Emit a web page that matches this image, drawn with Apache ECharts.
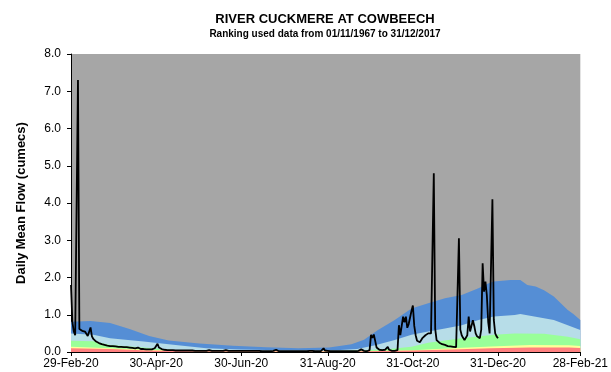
<!DOCTYPE html>
<html>
<head>
<meta charset="utf-8">
<script src="https://cdn.jsdelivr.net/npm/echarts@6/dist/echarts.min.js"></script>
<style>
  html, body { margin: 0; padding: 0; background: #fff; }
  #chart { width: 611px; height: 372px; }
</style>
</head>
<body>
<div id="chart"></div>
<script>
// Hydrological year shown: 29-Feb-2020 .. 28-Feb-2021 (day index 0..365)
const startDate = new Date(Date.UTC(2020, 1, 29));
const dayCount = 366;
const tickLabels = ['29-Feb-20', '30-Apr-20', '30-Jun-20', '31-Aug-20', '31-Oct-20', '31-Dec-20', '28-Feb-21'];

// Daily mean flow (cumecs), from 29-Feb-2020 onwards
const dailyFlow = [
  1.80,0.80,0.55,0.45,0.42,7.30,0.62,0.58,0.57,0.57,
  0.55,0.50,0.43,0.42,0.66,0.42,0.35,0.31,0.28,0.26,
  0.24,0.22,0.21,0.20,0.19,0.18,0.17,0.17,0.16,0.16,
  0.16,0.15,0.15,0.15,0.14,0.14,0.14,0.14,0.13,0.13,
  0.13,0.12,0.12,0.11,0.11,0.10,0.10,0.09,0.12,0.10,
  0.08,0.08,0.08,0.07,0.07,0.07,0.07,0.07,0.07,0.08,
  0.10,0.16,0.22,0.12,0.09,0.08,0.07,0.06,0.06,0.05,
  0.05,0.05,0.05,0.05,0.04,0.04,0.04,0.04,0.04,0.04,
  0.04,0.04,0.04,0.04,0.04,0.04,0.04,0.04,0.03,0.03,
  0.03,0.03,0.03,0.03,0.03,0.03,0.03,0.03,0.03,0.05,
  0.03,0.03,0.03,0.03,0.03,0.03,0.03,0.03,0.03,0.03,
  0.03,0.05,0.03,0.03,0.03,0.03,0.03,0.03,0.03,0.03,
  0.03,0.03,0.03,0.03,0.05,0.03,0.03,0.03,0.03,0.03,
  0.03,0.03,0.03,0.03,0.03,0.03,0.03,0.02,0.02,0.02,
  0.02,0.02,0.02,0.02,0.02,0.03,0.03,0.06,0.03,0.02,
  0.02,0.02,0.02,0.02,0.02,0.02,0.02,0.02,0.02,0.02,
  0.02,0.02,0.02,0.02,0.02,0.02,0.02,0.02,0.02,0.02,
  0.02,0.03,0.06,0.03,0.02,0.02,0.02,0.02,0.02,0.02,
  0.03,0.10,0.04,0.03,0.03,0.02,0.02,0.02,0.02,0.02,
  0.02,0.02,0.02,0.02,0.02,0.02,0.02,0.02,0.02,0.02,
  0.02,0.02,0.02,0.02,0.02,0.02,0.03,0.04,0.07,0.04,
  0.03,0.03,0.02,0.02,0.05,0.46,0.38,0.47,0.30,0.12,
  0.08,0.06,0.05,0.05,0.05,0.06,0.10,0.14,0.06,0.04,
  0.03,0.03,0.03,0.03,0.05,0.72,0.45,0.42,0.95,0.80,
  0.95,0.65,0.75,0.80,1.10,1.25,0.70,0.45,0.30,0.27,
  0.26,0.30,0.38,0.42,0.45,0.48,0.50,0.48,0.50,0.55,
  4.80,0.62,0.32,0.28,0.25,0.23,0.21,0.20,0.19,0.17,
  0.16,0.15,0.15,0.14,0.14,0.13,0.13,0.12,3.05,0.60,
  0.45,0.38,0.32,0.28,0.45,0.95,0.55,0.50,0.85,0.70,
  0.50,0.42,0.38,0.37,0.60,2.38,1.62,1.89,1.53,0.80,
  0.50,0.55,4.10,0.86,0.50,0.42,0.37
];

// Upper edge of each ranking band, [day index, cumecs]
const bandNotablyHigh = [
  [0,0.81],[14,0.83],[28,0.78],[42,0.62],[56,0.43],[70,0.31],[92,0.23],[116,0.17],
  [140,0.13],[163,0.10],[185,0.12],[201,0.21],[210,0.33],[220,0.59],[232,0.86],
  [244,1.17],[256,1.31],[268,1.44],[280,1.53],[292,1.71],[299,1.84],[303,1.89],
  [315,1.93],[322,1.93],[327,1.80],[333,1.76],[339,1.66],[346,1.49],[351,1.31],
  [356,1.13],[360,1.02],[365,0.86]
];
const bandAboveNormal = [
  [0,0.50],[16,0.46],[28,0.37],[52,0.28],[75,0.19],[97,0.10],[120,0.07],[150,0.05],
  [190,0.05],[205,0.08],[218,0.18],[232,0.32],[244,0.46],[256,0.55],[268,0.63],
  [280,0.72],[292,0.86],[303,0.95],[318,0.99],[322,1.02],[332,0.95],[346,0.86],
  [356,0.72],[365,0.59]
];
const bandNormal = [
  [0,0.30],[16,0.29],[28,0.19],[52,0.12],[75,0.05],[100,0.04],[130,0.03],[190,0.03],
  [210,0.05],[230,0.09],[244,0.14],[256,0.25],[280,0.37],[303,0.46],[318,0.50],
  [339,0.49],[356,0.41],[365,0.34]
];
const bandBelowNormal = [
  [0,0.14],[28,0.10],[56,0.06],[91,0.03],[200,0.02],[245,0.05],[273,0.10],
  [301,0.15],[329,0.19],[357,0.18],[365,0.16]
];
const bandNotablyLow = [
  [0,0.10],[28,0.08],[56,0.04],[91,0.02],[200,0.015],[245,0.04],[273,0.07],
  [301,0.10],[329,0.12],[357,0.12],[365,0.11]
];

const monthNames = ['Jan','Feb','Mar','Apr','May','Jun','Jul','Aug','Sep','Oct','Nov','Dec'];
const categories = [];
for (let i = 0; i < dayCount; i++) {
  const d = new Date(startDate.getTime() + i * 86400000);
  const dd = String(d.getUTCDate()).padStart(2, '0');
  categories.push(dd + '-' + monthNames[d.getUTCMonth()] + '-' + String(d.getUTCFullYear()).slice(2));
}
const showTick = (idx) => tickLabels.indexOf(categories[idx]) !== -1;

const band = (name, data, color) => ({
  name, type: 'line', data, symbol: 'none', silent: true,
  lineStyle: { width: 0 },
  areaStyle: { color, opacity: 1 }
});

const chart = echarts.init(document.getElementById('chart'), null, { renderer: 'canvas' });
chart.setOption({
  animation: false,
  textStyle: { fontFamily: 'Liberation Sans, Arial, sans-serif' },
  title: {
    text: 'RIVER CUCKMERE AT COWBEECH',
    subtext: 'Ranking used data from 01/11/1967 to 31/12/2017',
    left: 320, textAlign: 'center', top: 8, itemGap: 3,
    textStyle: { fontSize: 13, fontWeight: 'bold', color: '#000', fontFamily: 'Liberation Sans' },
    subtextStyle: { fontSize: 10, fontWeight: 'bold', color: '#000', fontFamily: 'Liberation Sans' }
  },
  grid: {
    left: 71, right: 28, top: 54, bottom: 20,
    show: true, backgroundColor: '#a6a6a6', borderWidth: 0
  },
  xAxis: {
    type: 'category', data: categories, boundaryGap: false,
    axisLine: { lineStyle: { color: '#000', width: 1 } },
    axisTick: { interval: showTick, length: 4, lineStyle: { color: '#000' } },
    axisLabel: { interval: showTick, color: '#000', fontSize: 12, margin: 6,
                 fontFamily: 'Liberation Sans' },
    splitLine: { show: false }
  },
  yAxis: {
    type: 'value', min: 0, max: 8, interval: 1,
    name: 'Daily Mean Flow (cumecs)', nameLocation: 'middle', nameGap: 43,
    nameTextStyle: { fontSize: 13, fontWeight: 'bold', color: '#000', fontFamily: 'Liberation Sans' },
    axisLine: { show: true, lineStyle: { color: '#000', width: 1 } },
    axisTick: { show: true, length: 4, lineStyle: { color: '#000' } },
    axisLabel: { color: '#000', fontSize: 12, margin: 10, formatter: v => v.toFixed(1),
                 fontFamily: 'Liberation Sans' },
    splitLine: { show: false }
  },
  series: [
    band('Notably high', bandNotablyHigh, '#558ed5'),
    band('Above normal', bandAboveNormal, '#b7dde8'),
    band('Normal', bandNormal, '#99ff99'),
    band('Below normal', bandBelowNormal, '#ffff99'),
    band('Notably low', bandNotablyLow, '#ff8080'),
    {
      name: 'Daily mean flow', type: 'line', data: dailyFlow, symbol: 'none',
      lineStyle: { color: '#000', width: 1.8 }, z: 5
    }
  ]
});
</script>
</body>
</html>
